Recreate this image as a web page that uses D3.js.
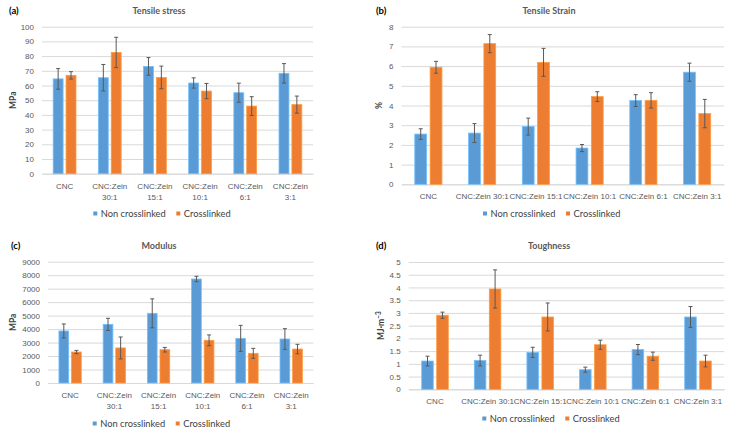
<!DOCTYPE html>
<html>
<head>
<meta charset="utf-8">
<script src="https://cdn.jsdelivr.net/npm/d3@7"></script>
<style>
  body { margin: 0; background: #fff; }
  svg { font-family: Lato, "Open Sans", sans-serif; }
  .tick text { fill: #595959; font-size: 8px; }
  .title { fill: #595959; font-size: 9px; font-weight: bold; }
  .panel-tag { fill: #000; font-size: 9.5px; font-weight: bold; }
  .axis-label { fill: #404040; font-size: 8.5px; font-weight: bold; }
  .legend text { fill: #404040; font-size: 9.3px; }
</style>
</head>
<body>
<svg width="738" height="434"></svg>
<script>
// sample names, same in every panel
const categories = ['CNC', 'CNC:Zein 30:1', 'CNC:Zein 15:1', 'CNC:Zein 10:1', 'CNC:Zein 6:1', 'CNC:Zein 3:1'];
const seriesNames = ['Non crosslinked', 'Crosslinked'];

// (a) tensile stress, MPa
const stressNon = [64.5, 65.3, 73.0, 61.7, 55.1, 68.3];
const stressNonErr = [7.0, 9.0, 6.0, 3.5, 6.5, 6.6];
const stressCross = [66.9, 82.5, 65.5, 56.2, 46.0, 47.0];
const stressCrossErr = [2.5, 10.3, 7.7, 5.2, 6.4, 5.8];
const stressTicks = [0, 10, 20, 30, 40, 50, 60, 70, 80, 90, 100];

// (b) tensile strain, %
const strainNon = [2.55, 2.6, 2.93, 1.84, 4.25, 5.69];
const strainNonErr = [0.27, 0.48, 0.43, 0.18, 0.3, 0.46];
const strainCross = [5.94, 7.14, 6.19, 4.45, 4.26, 3.59];
const strainCrossErr = [0.3, 0.46, 0.71, 0.25, 0.39, 0.72];
const strainTicks = [0, 1, 2, 3, 4, 5, 6, 7, 8];

// (c) modulus, MPa
const modNon = [3860, 4350, 5170, 7715, 3310, 3265];
const modNonErr = [520, 450, 1075, 200, 965, 767];
const modCross = [2300, 2600, 2470, 3165, 2200, 2520];
const modCrossErr = [120, 815, 170, 400, 370, 350];
const modTicks = [0, 1000, 2000, 3000, 4000, 5000, 6000, 7000, 8000, 9000];

// (d) toughness, MJ·m⁻³
const toughNon = [1.11, 1.13, 1.45, 0.77, 1.56, 2.84];
const toughNonErr = [0.19, 0.21, 0.2, 0.1, 0.2, 0.41];
const toughCross = [2.91, 3.94, 2.84, 1.75, 1.3, 1.11];
const toughCrossErr = [0.12, 0.75, 0.55, 0.18, 0.16, 0.23];
const toughTicks = [0, 0.5, 1, 1.5, 2, 2.5, 3, 3.5, 4, 4.5, 5];

const colors = ['#5B9BD5', '#ED7D31'];

const svg = d3.select('svg');

function drawPanel(p) {
    const g = svg.append('g');

    const x = d3.scaleBand().domain(categories).range([p.left, p.right]);
    const y = d3.scaleLinear().domain([0, d3.max(p.ticks)]).range([p.bottom, p.top]);

    // gridlines + y tick labels
    const yAxis = d3.axisLeft(y)
        .tickValues(p.ticks)
        .tickSize(-(p.right - p.left))
        .tickPadding(8)
        .tickFormat(d => d);
    const yG = g.append('g')
        .attr('transform', `translate(${p.left},0)`)
        .call(yAxis);
    yG.select('.domain').remove();
    yG.selectAll('.tick line').attr('stroke', '#D9D9D9');

    // category labels
    const xG = g.append('g')
        .attr('transform', `translate(0,${p.bottom})`)
        .call(d3.axisBottom(x).tickSize(0).tickFormat(''));
    xG.select('.domain').attr('stroke', '#D9D9D9');
    xG.selectAll('.tick').each(function(d) {
        const t = d3.select(this).append('text')
            .attr('fill', '#595959')
            .attr('y', 15)
            .attr('text-anchor', 'middle');
        const lines = p.wrap ? d.split(' ') : [d];
        lines.forEach((s, i) => {
            t.append('tspan').attr('x', 0).attr('dy', i === 0 ? 0 : 11).text(s);
        });
    });

    // bars
    const bw = x.bandwidth() * 0.22;
    const gap = x.bandwidth() * 0.065;
    const series = [
        {vals: p.non, errs: p.nonErr, c: colors[0], off: -(gap / 2 + bw / 2)},
        {vals: p.cross, errs: p.crossErr, c: colors[1], off: gap / 2 + bw / 2}
    ];
    series.forEach(s => {
        const rows = categories.map((c, i) => ({cat: c, v: s.vals[i], e: s.errs[i]}));
        const cx = d => x(d.cat) + x.bandwidth() / 2 + s.off;
        g.append('g').selectAll('rect')
            .data(rows)
            .join('rect')
            .attr('x', d => cx(d) - bw / 2)
            .attr('y', d => y(d.v))
            .attr('width', bw)
            .attr('height', d => y(0) - y(d.v))
            .attr('fill', s.c)
            .attr('stroke', d3.color(s.c).brighter(0.6))
            .attr('stroke-width', 0.8);
        const eb = g.append('g').attr('stroke', '#595959').attr('stroke-width', 1);
        eb.selectAll('.v').data(rows).join('line')
            .attr('x1', cx).attr('x2', cx)
            .attr('y1', d => y(d.v + d.e)).attr('y2', d => y(d.v - d.e));
        [1, -1].forEach(sign => {
            eb.append('g').selectAll('line').data(rows).join('line')
                .attr('x1', d => cx(d) - 2).attr('x2', d => cx(d) + 2)
                .attr('y1', d => y(d.v + sign * d.e))
                .attr('y2', d => y(d.v + sign * d.e));
        });
    });

    // titles
    g.append('text').attr('class', 'title')
        .attr('x', p.titleX).attr('y', p.titleY)
        .attr('text-anchor', 'middle').text(p.title);
    g.append('text').attr('class', 'panel-tag')
        .attr('x', p.tagX).attr('y', p.titleY).text(p.tag);
    g.append('text').attr('class', 'axis-label')
        .attr('transform', `translate(${p.labelX},${(p.top + p.bottom) / 2}) rotate(-90)`)
        .attr('text-anchor', 'middle')
        .html(p.yLabel);

    // legend
    const leg = g.append('g').attr('class', 'legend')
        .attr('transform', `translate(${p.legX},${p.legY})`);
    seriesNames.forEach((n, i) => {
        const ox = i * 83;
        leg.append('rect').attr('x', ox).attr('y', -2.5).attr('width', 4).attr('height', 4).attr('fill', colors[i]);
        leg.append('text').attr('x', ox + 7.5).attr('y', 0).attr('dy', '0.35em').text(n);
    });
}

drawPanel({tag: '(a)', title: 'Tensile stress', yLabel: 'MPa',
    non: stressNon, nonErr: stressNonErr, cross: stressCross, crossErr: stressCrossErr, ticks: stressTicks,
    left: 42, right: 313, top: 26.7, bottom: 173.7, wrap: true,
    titleX: 159, titleY: 14, tagX: 9, labelX: 16, legX: 93.3, legY: 214});

drawPanel({tag: '(b)', title: 'Tensile Strain', yLabel: '%',
    non: strainNon, nonErr: strainNonErr, cross: strainCross, crossErr: strainCrossErr, ticks: strainTicks,
    left: 401.5, right: 724, top: 26.7, bottom: 184.3, wrap: false,
    titleX: 549, titleY: 14, tagX: 376, labelX: 382, legX: 483, legY: 214});

drawPanel({tag: '(c)', title: 'Modulus', yLabel: 'MPa',
    non: modNon, nonErr: modNonErr, cross: modCross, crossErr: modCrossErr, ticks: modTicks,
    left: 48, right: 313.3, top: 261.7, bottom: 383, wrap: true,
    titleX: 159, titleY: 249, tagX: 11, labelX: 16, legX: 92.7, legY: 424});

drawPanel({tag: '(d)', title: 'Toughness', yLabel: 'MJ·m<tspan dy="-3" font-size="6.5">−3</tspan>',
    non: toughNon, nonErr: toughNonErr, cross: toughCross, crossErr: toughCrossErr, ticks: toughTicks,
    left: 408.7, right: 724.3, top: 262, bottom: 389.3, wrap: false,
    titleX: 549, titleY: 249, tagX: 376, labelX: 384, legX: 482.3, legY: 419});
</script>
</body>
</html>
